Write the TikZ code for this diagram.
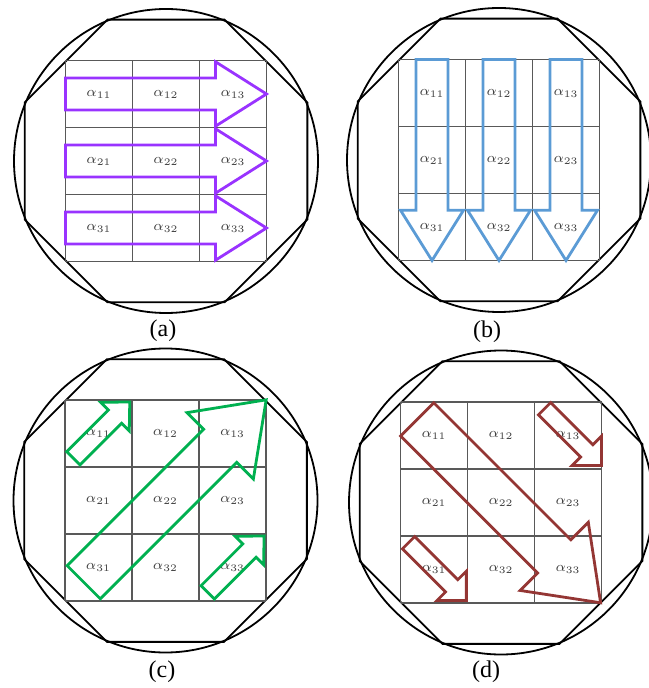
\documentclass[tikz,border=0pt]{standalone}
\usepackage{fontspec}
\setmainfont{Liberation Serif}
\usepackage{tikz}
\usetikzlibrary{calc}
\definecolor{cRow}{HTML}{9933FF}
\definecolor{cCol}{HTML}{5B9BD5}
\definecolor{cDiag}{HTML}{00B050}
\definecolor{cAnti}{HTML}{943634}
\definecolor{cElem}{HTML}{404040}
\tikzset{
  rim/.style ={draw=black, line width=0.9pt},
  cellline/.style={draw=black!65, line width=0.6pt},
  elem/.style={text=cElem, font=\fontsize{7}{8}\selectfont, inner sep=0pt},
  captext/.style ={font=\fontsize{12}{14}\selectfont, inner sep=0pt},
  blk/.style ={line width=1.4pt, line join=miter},
  pics/blockarrow/.style args={#1/#2/#3/#4}{code={
    \draw[pic actions] (0,-#2) -- (#1-#4,-#2) -- (#1-#4,-#3) -- (#1,0)
      -- (#1-#4,#3) -- (#1-#4,#2) -- (0,#2) -- cycle;
  }},
}

\begin{document}
\begin{tikzpicture}[x=0.5pt, y=-0.5pt]
  \useasboundingbox (0,0) rectangle (648,688);
  % circle, octagon, grid and elements of each panel
  \foreach \p/\cx/\cy/\tx/\ty in {a/166/161/163/331, b/499/160/487/332,
                                 c/165.5/500.5/162/672, d/501/502.5/486/672}{
    \begin{scope}[shift={(\cx,\cy)}]
      \draw[rim] (0,0) circle[radius=152];
      \draw[rim] (22.5:153) \foreach \k in {1,...,7}{ -- (22.5+45*\k:153)} -- cycle;
      \begin{scope}[shift={(-100.5,-100.5)}, x=33.5pt, y=-33.5pt]
        \foreach \i in {0,...,3}{
          \draw[cellline] (\i,0) -- (\i,3);
          \draw[cellline] (0,\i) -- (3,\i);
        }
        \foreach \r in {1,2,3}
          \foreach \c in {1,2,3}
            \node[elem] (\p-\r\c) at (\c-0.5,\r-0.5) {$\alpha_{\r\c}$};
      \end{scope}
    \end{scope}
    \node[captext] (cap-\p) at (\tx,\ty) {(\p)};
  }
  % (a) row order
  \begin{scope}[shift={(65.5,60.5)}, x=33.5pt, y=-33.5pt]
    \foreach \r in {1,2,3}
      \pic[draw=cRow, blk] at (0,\r-0.5) {blockarrow=3/0.24/0.48/0.76};
  \end{scope}
  % (b) column order
  \begin{scope}[shift={(398.5,59.5)}, x=33.5pt, y=-33.5pt]
    \foreach \c in {1,2,3}
      \pic[draw=cCol, blk, rotate=-90] at (\c-0.5,0) {blockarrow=3/0.24/0.47/0.75};
  \end{scope}
  % (c) diagonals up-right
  \begin{scope}[shift={(65,400)}, x=33.5pt, y=-33.5pt]
    \pic[draw=cDiag, blk, rotate=45] at (0.28,2.72) {blockarrow=3.85/0.35/0.70/0.97};
    \pic[draw=cDiag, blk, rotate=45] at (0.125,0.87) {blockarrow=1.19/0.14/0.30/0.31};
    \pic[draw=cDiag, blk, rotate=45] at (2.13,2.87) {blockarrow=1.19/0.14/0.30/0.31};
  \end{scope}
  % (d) diagonals down-right
  \begin{scope}[shift={(400.5,402)}, x=33.5pt, y=-33.5pt]
    \pic[draw=cAnti, blk, rotate=-45] at (0.25,0.26) {blockarrow=3.87/0.35/0.72/0.98};
    \pic[draw=cAnti, blk, rotate=-45] at (2.15,0.10) {blockarrow=1.20/0.13/0.31/0.31};
    \pic[draw=cAnti, blk, rotate=-45] at (0.12,2.10) {blockarrow=1.22/0.13/0.31/0.31};
  \end{scope}
\end{tikzpicture}
\end{document}
